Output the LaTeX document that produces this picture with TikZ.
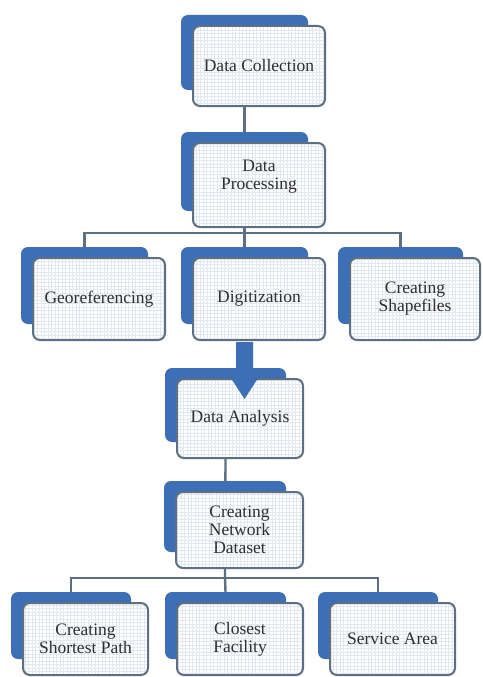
\documentclass[tikz,border=0pt]{standalone}
\usepackage{fontspec}
\setmainfont{Liberation Serif}
\usetikzlibrary{calc}
\pgfdeclarelayer{bg}
\pgfsetlayers{bg,main}
\definecolor{blueC}{HTML}{3D6FB6}
\definecolor{edgeC}{HTML}{5F6F82}
\definecolor{gridC}{HTML}{E2E8F0}
\definecolor{txtC}{HTML}{2E2E2E}
\tikzset{
  boxtext/.style={align=center, inner sep=0pt, text=txtC,
    font=\fontsize{17.5}{18}\selectfont},
  backbox/.style={fill=blueC, rounded corners=7pt, inner sep=0pt},
  frontbox/.style={boxtext, fill=white, draw=edgeC, line width=2pt, rounded corners=7pt,
    path picture={\draw[gridC, line width=0.4pt, step=3.5pt]
      (path picture bounding box.south west) grid (path picture bounding box.north east);}},
  link/.style={draw=edgeC, line width=2.4pt}
}
% front box: center, width, height, text
\newcommand{\stackbox}[6]{%
  \node[backbox, minimum width=#4pt-5pt, minimum height=#5pt-5pt] (b#1) at (#2-14.5,#3-13.5) {};
  \node[frontbox, minimum width=#4pt, minimum height=#5pt] (f#1) at (#2,#3) {#6};
}
\begin{document}
\begin{tikzpicture}[x=1pt,y=-1pt]
\begin{pgfonlayer}{bg}
  \fill[white] (0,0) rectangle (482,677);
\end{pgfonlayer}
\useasboundingbox (0,0) rectangle (482,677);

\stackbox{DC}{259}{66}{132}{80}{Data Collection}
\stackbox{DP}{259}{185}{132}{84}{}
\node[boxtext] (tDP) at ($(fDP.center)+(0,-8)$) {Data\\Processing};
\stackbox{Geo}{99}{299}{132}{82}{Georeferencing}
\stackbox{Dig}{259}{299}{132}{82}{Digitization}
\stackbox{Shp}{415}{299}{130}{82}{Creating\\Shapefiles}
\stackbox{DA}{240}{418.5}{126}{79}{Data Analysis}
\stackbox{ND}{239.5}{530}{127}{76}{Creating\\Network\\Dataset}
\stackbox{SP}{85.5}{639}{125}{72}{Creating\\Shortest Path}
\stackbox{CF}{240}{639}{126}{72}{Closest\\Facility}
\stackbox{SA}{392.5}{639}{125}{72}{Service Area}

\coordinate (bus1) at (244.5,233);
\coordinate (bus2) at (225,578);

\begin{pgfonlayer}{bg}
  \draw[link] (fDC.south -| bDC.center) -- (fDP.north -| bDC.center);
  \draw[link] (fDP.south -| bDP.center) -- (bus1);
  \draw[link] (bGeo.north) |- (bus1) -| (bShp.north);
  \draw[link] (bus1) -- (bDig.north);
  \draw[link] (fDA.south -| bDA.center) -- (bus2);
  \draw[link] (bSP.north) |- (bus2) -| (bSA.north);
  \draw[link] (bus2) -- (bCF.north);
\end{pgfonlayer}

% big arrow from Digitization to Data Analysis
\coordinate (atop) at (bDig.center |- fDig.south);
\fill[blueC] ($(atop)+(-8.5,1)$) -- ++(0,27) -- ++(-11,0) -- ($(atop)+(0,58)$)
  -- ($(atop)+(19.5,28)$) -- ++(-11,0) -- ++(0,-27) -- cycle;
\end{tikzpicture}
\end{document}
